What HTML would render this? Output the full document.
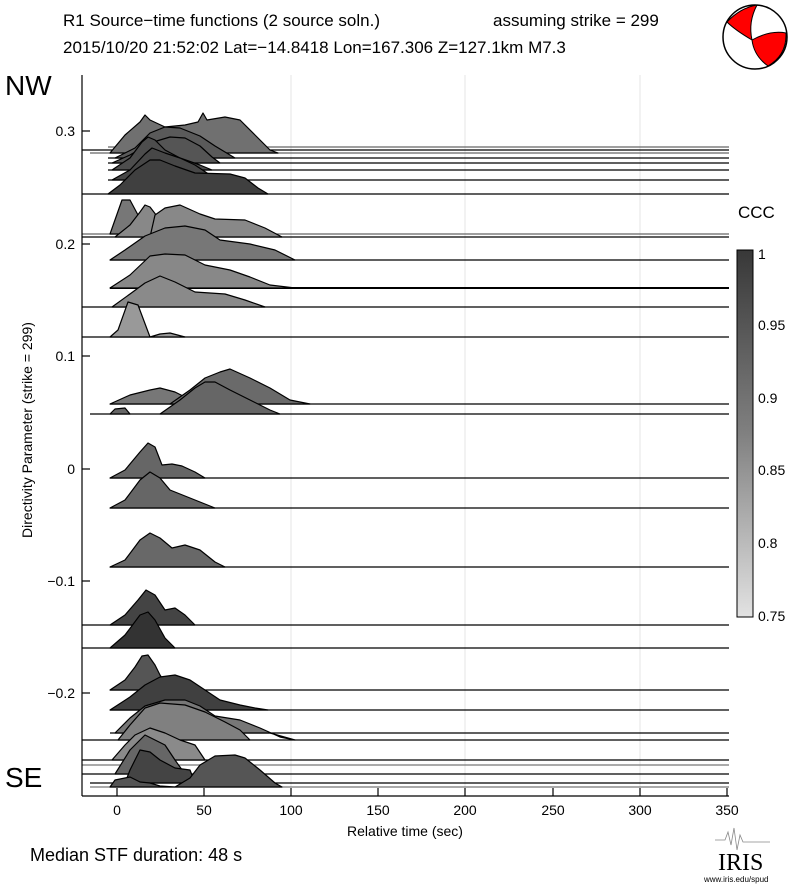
<!DOCTYPE html>
<html><head><meta charset="utf-8"><style>
body{margin:0;background:#fff;}
svg{display:block;font-family:"Liberation Sans",sans-serif;}
</style></head><body>
<svg width="800" height="887" viewBox="0 0 800 887" xmlns="http://www.w3.org/2000/svg">
<rect width="800" height="887" fill="#fff"/>
<text x="63" y="26" font-size="17">R1 Source−time functions (2 source soln.)</text>
<text x="493" y="26" font-size="17">assuming strike = 299</text>
<text x="63" y="53" font-size="17">2015/10/20 21:52:02  Lat=−14.8418 Lon=167.306  Z=127.1km  M7.3</text>
<!-- beachball -->
<circle cx="755" cy="37" r="32" fill="#fff" stroke="#000" stroke-width="1.5"/>
<path d="M727,22 Q740,8 757,5 Q748,22 752,40 Q735,30 727,22Z" fill="#f00" stroke="#000" stroke-width="1"/>
<path d="M752,40 Q770,30 786,33 Q787,55 768,66 Q754,56 752,40Z" fill="#f00" stroke="#000" stroke-width="1"/>
<text x="5" y="95" font-size="28">NW</text>
<text x="5" y="787" font-size="28">SE</text>
<!-- grid -->
<g stroke="#e4e4e4" stroke-width="1"><line x1="291" y1="75" x2="291" y2="796"/><line x1="465" y1="75" x2="465" y2="796"/><line x1="640" y1="75" x2="640" y2="796"/></g>
<g stroke="#000" stroke-width="1.2" stroke-linejoin="round">
<!-- baselines -->
<g fill="none">
<line x1="108" y1="147" x2="729" y2="147" stroke="#666"/><line x1="82" y1="150" x2="729" y2="150"/><line x1="90" y1="153" x2="729" y2="153" stroke="#666"/>
<line x1="108" y1="158" x2="729" y2="158"/><line x1="108" y1="163" x2="729" y2="163"/><line x1="108" y1="170" x2="729" y2="170"/><line x1="108" y1="180" x2="729" y2="180"/><line x1="82" y1="194" x2="729" y2="194"/>
<line x1="82" y1="234" x2="729" y2="234" stroke="#666"/><line x1="82" y1="237" x2="729" y2="237"/><line x1="110" y1="260" x2="729" y2="260"/><line x1="110" y1="288" x2="729" y2="288" stroke-width="2"/><line x1="82" y1="307" x2="729" y2="307"/><line x1="82" y1="337" x2="729" y2="337"/>
<line x1="110" y1="404" x2="729" y2="404"/><line x1="90" y1="414" x2="729" y2="414"/>
<line x1="110" y1="478" x2="729" y2="478"/><line x1="110" y1="508" x2="729" y2="508"/><line x1="110" y1="567" x2="729" y2="567"/><line x1="82" y1="625" x2="729" y2="625"/><line x1="82" y1="648" x2="729" y2="648"/><line x1="110" y1="690" x2="729" y2="690"/><line x1="110" y1="710" x2="729" y2="710"/>
<line x1="110" y1="733" x2="729" y2="733"/><line x1="82" y1="740" x2="729" y2="740"/><line x1="82" y1="760" x2="729" y2="760"/><line x1="82" y1="765" x2="729" y2="765" stroke="#777"/><line x1="82" y1="774" x2="729" y2="774"/><line x1="90" y1="783" x2="729" y2="783"/><line x1="90" y1="787" x2="729" y2="787" stroke="#777"/>
</g>
<!-- top group -->
<path d="M110,153 L125,135 L140,122 L145,115 L150,120 L165,127 L185,125 L198,122 L203,113 L207,120 L225,117 L240,120 L255,135 L270,150 L278,153Z" fill="#707070"/>
<path d="M115,158 L135,148 L150,133 L165,127 L180,128 L200,136 L215,146 L225,152 L235,158Z" fill="#5a5a5a"/>
<path d="M112,163 L130,155 L150,143 L170,137 L185,138 L200,146 L212,157 L220,163Z" fill="#555"/>
<path d="M112,170 L130,158 L142,142 L148,137 L155,140 L165,150 L180,158 L200,165 L212,170Z" fill="#4d4d4d"/>
<path d="M112,180 L130,170 L145,154 L152,148 L165,153 L180,158 L195,165 L210,175 L215,180Z" fill="#474747"/>
<path d="M108,194 L120,185 L135,170 L150,160 L160,160 L175,166 L195,173 L230,174 L245,178 L258,188 L268,194Z" fill="#404040"/>
<!-- group 2 -->
<path d="M110,234 L122,200 L130,200 L138,215 L160,234Z" fill="#777"/>
<path d="M115,237 L130,225 L140,212 L145,205 L150,207 L160,220 L170,237Z" fill="#888"/>
<path d="M150,237 L155,215 L165,208 L180,205 L200,214 L215,219 L245,220 L265,228 L282,237Z" fill="#888"/>
<path d="M110,260 L125,250 L145,236 L165,228 L185,226 L205,230 L220,240 L250,244 L275,250 L295,260Z" fill="#777"/>
<path d="M110,288 L130,275 L150,256 L165,254 L185,255 L205,265 L230,270 L250,277 L270,285 L295,288Z" fill="#888"/>
<path d="M112,307 L130,294 L145,283 L160,276 L175,282 L195,292 L225,294 L245,300 L265,307Z" fill="#8a8a8a"/>
<path d="M110,337 L118,330 L128,302 L138,305 L150,337 L160,334 L170,333 L185,337Z" fill="#999"/>
<!-- group 3 -->
<path d="M110,404 L130,395 L150,390 L160,388 L175,392 L185,397 L200,404Z" fill="#777"/>
<path d="M170,404 L190,390 L205,378 L220,372 L230,369 L250,378 L270,388 L290,400 L310,404Z" fill="#6a6a6a"/>
<path d="M110,414 L115,409 L125,408 L130,414Z" fill="#666"/>
<path d="M160,414 L180,400 L195,388 L205,382 L215,382 L230,390 L250,400 L270,410 L280,414Z" fill="#666"/>
<!-- middle -->
<path d="M110,478 L125,470 L140,452 L148,443 L155,447 L162,465 L172,464 L182,466 L195,472 L205,478Z" fill="#666"/>
<path d="M110,508 L125,500 L140,480 L150,472 L160,478 L170,490 L185,496 L200,502 L215,508Z" fill="#666"/>
<path d="M110,567 L125,560 L140,540 L150,533 L160,538 L172,548 L185,545 L200,550 L215,562 L225,567Z" fill="#686868"/>
<path d="M110,625 L125,615 L138,600 L146,590 L155,595 L165,610 L175,608 L185,615 L195,625Z" fill="#444"/>
<path d="M110,648 L125,635 L140,615 L148,612 L155,620 L165,638 L175,648Z" fill="#333"/>
<!-- lower -->
<path d="M110,690 L125,680 L135,667 L142,656 L148,655 L155,665 L160,675 L170,690Z" fill="#555"/>
<path d="M110,710 L130,697 L145,685 L160,677 L175,675 L190,680 L205,690 L220,700 L240,705 L255,708 L268,710Z" fill="#404040"/>
<path d="M115,733 L130,718 L145,706 L165,700 L185,700 L200,706 L215,716 L240,720 L260,728 L280,737 L295,740 L270,733Z" fill="#777"/>
<path d="M118,740 L130,725 L145,708 L160,703 L185,705 L205,712 L225,722 L240,730 L250,740Z" fill="#808080"/>
<path d="M112,760 L125,745 L135,735 L150,728 L165,733 L180,740 L195,745 L205,760Z" fill="#8a8a8a"/>
<path d="M115,774 L130,750 L145,735 L155,740 L165,745 L175,760 L185,774Z" fill="#666"/>
<path d="M125,783 L130,770 L140,750 L150,752 L160,760 L175,768 L190,770 L195,783Z" fill="#444"/>
<path d="M110,787 L115,780 L130,777 L140,782 L150,783 L160,786 L175,787Z" fill="#555"/>
<path d="M175,787 L190,778 L200,765 L215,756 L235,755 L245,758 L260,770 L275,783 L282,787Z" fill="#555"/>
</g>
<!-- axes -->
<g stroke="#000" stroke-width="1.2">
<line x1="82" y1="75" x2="82" y2="796"/><line x1="82" y1="796" x2="729" y2="796"/>
<line x1="82" y1="131" x2="90" y2="131"/><line x1="82" y1="244" x2="90" y2="244"/><line x1="82" y1="356" x2="90" y2="356"/><line x1="82" y1="469" x2="90" y2="469"/><line x1="82" y1="581" x2="90" y2="581"/><line x1="82" y1="693" x2="90" y2="693"/>
<line x1="117" y1="796" x2="117" y2="788"/><line x1="204" y1="796" x2="204" y2="788"/><line x1="291" y1="796" x2="291" y2="788"/><line x1="378" y1="796" x2="378" y2="788"/><line x1="465" y1="796" x2="465" y2="788"/><line x1="553" y1="796" x2="553" y2="788"/><line x1="640" y1="796" x2="640" y2="788"/><line x1="727" y1="796" x2="727" y2="788"/>
</g>
<g font-size="14" text-anchor="end">
<text x="75" y="136">0.3</text><text x="75" y="249">0.2</text><text x="75" y="361">0.1</text><text x="75" y="474">0</text><text x="75" y="586">−0.1</text><text x="75" y="698">−0.2</text>
</g>
<g font-size="14" text-anchor="middle">
<text x="117" y="815">0</text><text x="204" y="815">50</text><text x="291" y="815">100</text><text x="378" y="815">150</text><text x="465" y="815">200</text><text x="553" y="815">250</text><text x="640" y="815">300</text><text x="727" y="815">350</text>
<text x="405" y="836">Relative time (sec)</text>
</g>
<text transform="translate(32,430) rotate(-90)" font-size="14" text-anchor="middle">Directivity Parameter (strike = 299)</text>
<text x="30" y="861" font-size="18">Median STF duration: 48 s</text>
<!-- colorbar -->
<text x="738" y="218" font-size="17">CCC</text>
<defs><linearGradient id="cb" x1="0" y1="0" x2="0" y2="1">
<stop offset="0" stop-color="#383838"/><stop offset="0.5" stop-color="#808080"/><stop offset="1" stop-color="#e2e2e2"/></linearGradient></defs>
<rect x="737" y="250" width="16" height="367" fill="url(#cb)" stroke="#000"/>
<g font-size="14"><text x="758" y="259">1</text><text x="758" y="330">0.95</text><text x="758" y="403">0.9</text><text x="758" y="475">0.85</text><text x="758" y="548">0.8</text><text x="758" y="621">0.75</text></g>
<!-- IRIS -->
<path d="M715,840 L725,840 L728,832 L731,845 L734,828 L737,850 L740,835 L743,842 L770,842" stroke="#888" fill="none" stroke-width="0.8"/>
<text x="718" y="870" font-size="24" font-family="Liberation Serif,serif">IRIS</text>
<text x="704" y="882" font-size="8">www.iris.edu/spud</text>
</svg>
</body></html>
